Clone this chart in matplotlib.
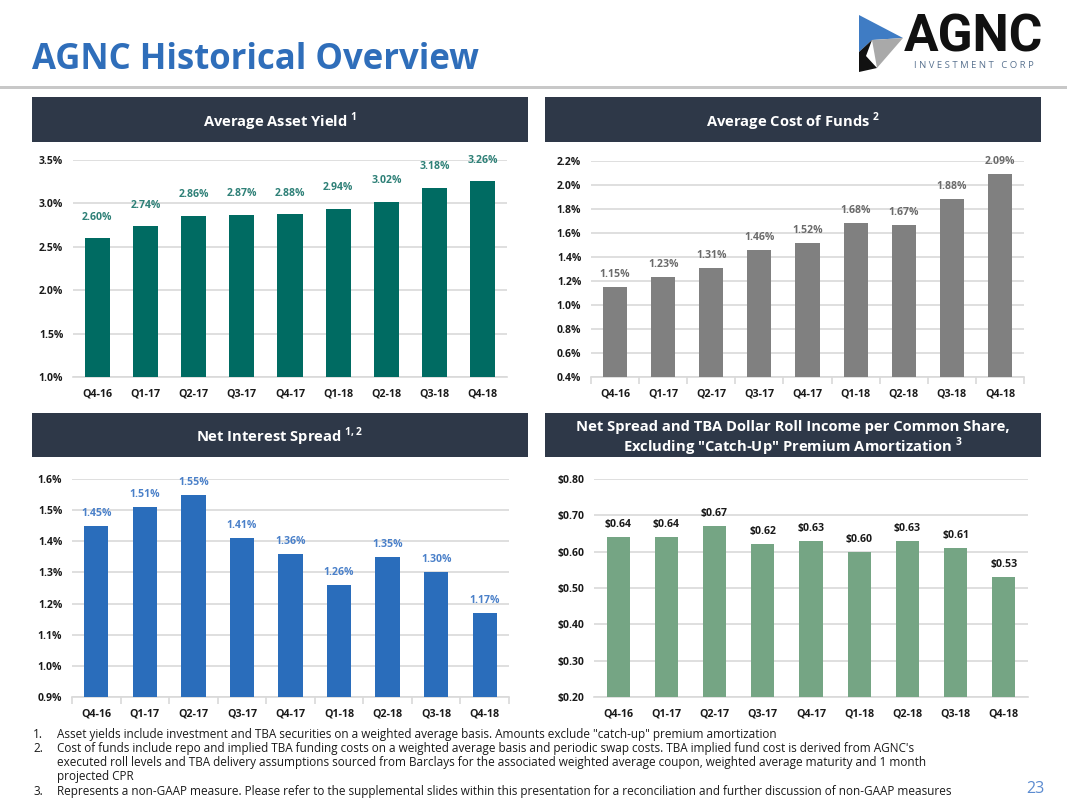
import numpy as np
import matplotlib
matplotlib.use("Agg")
import matplotlib.pyplot as plt
from matplotlib.patches import Rectangle, Polygon
from matplotlib.ticker import FuncFormatter, FixedLocator

quarters = ["Q4-16", "Q1-17", "Q2-17", "Q3-17", "Q4-17", "Q1-18", "Q2-18", "Q3-18", "Q4-18"]
asset_yield = [2.60, 2.74, 2.86, 2.87, 2.88, 2.94, 3.02, 3.18, 3.26]
cost_of_funds = [1.15, 1.23, 1.31, 1.46, 1.52, 1.68, 1.67, 1.88, 2.09]
net_spread = [1.45, 1.51, 1.55, 1.41, 1.36, 1.26, 1.35, 1.30, 1.17]
roll_income = [0.64, 0.64, 0.67, 0.62, 0.63, 0.60, 0.63, 0.61, 0.53]

footnotes = [
    ("1.", "Asset yields include investment and TBA securities on a weighted average basis. Amounts exclude \"catch-up\" premium amortization"),
    ("2.", "Cost of funds include repo and implied TBA funding costs on a weighted average basis and periodic swap costs. TBA implied fund cost is derived from AGNC's\n"
           "executed roll levels and TBA delivery assumptions sourced from Barclays for the associated weighted average coupon, weighted average maturity and 1 month\n"
           "projected CPR"),
    ("3.", "Represents a non-GAAP measure. Please refer to the supplemental slides within this presentation for a reconciliation and further discussion of non-GAAP measures"),
]

plt.rcParams["font.family"] = ["Open Sans", "DejaVu Sans"]
plt.rcParams["mathtext.fontset"] = "custom"
plt.rcParams["mathtext.rm"] = "Open Sans"
plt.rcParams["mathtext.bf"] = "Open Sans:bold"

W, H = 1067, 805
fig = plt.figure(figsize=(W / 100, H / 100), dpi=100)
fig.patch.set_facecolor("white")


def fx(x):
    return x / W


def fy(y):
    return 1 - y / H


def rect(l, t, r, b):
    return [fx(l), fy(b), fx(r) - fx(l), fy(t) - fy(b)]


HEADER = "#2E3848"
TXT = "#1A1A1A"

# title + rule
fig.text(fx(32), fy(60), "AGNC Historical Overview", color="#2F6EBA", fontsize=25,
         fontweight="bold", va="center", ha="left")
fig.add_artist(Rectangle((0, fy(89)), 1, 3 / H, transform=fig.transFigure,
                         color="#C8C8C8", lw=0))

# logo
logo = [
    ([(859, 15), (903, 38), (872, 40), (859, 52)], "#3F7CC4"),
    ([(872, 40), (903, 38), (877, 68)], "#A9A9A9"),
    ([(859, 52), (872, 40), (866, 56), (877, 68), (859, 72)], "#111111"),
]
for pts, c in logo:
    fig.add_artist(Polygon([(fx(x), fy(y)) for x, y in pts], closed=True,
                           transform=fig.transFigure, color=c, lw=0))
fig.text(fx(973), fy(37), "AGNC", fontsize=37, fontweight="bold", color="#111111",
         va="center", ha="center", family=["Roboto", "DejaVu Sans"])
fig.text(fx(974), fy(66), "I N V E S T M E N T   C O R P", fontsize=6.8, color="#5A7390",
         va="center", ha="center")

panels = [
    dict(vals=asset_yield, color="#006B62", lab="#2E8077", head="Average Asset Yield $^{\\mathbf{1}}$",
         hdr=(32, 97, 528, 142), ax=(73, 160, 507, 377), lim=(1.0, 3.5), step=0.5,
         fmt="{:.1f}%", lfmt="{:.2f}%", width=0.52, ticks=False, off=11),
    dict(vals=cost_of_funds, color="#808080", lab="#6B6B6B", head="Average Cost of Funds $^{\\mathbf{2}}$",
         hdr=(545, 97, 1041, 142), ax=(591, 161, 1024, 377), lim=(0.4, 2.2), step=0.2,
         fmt="{:.1f}%", lfmt="{:.2f}%", width=0.5, ticks=True, off=5),
    dict(vals=net_spread, color="#2A6DBB", lab="#4A80C9", head="Net Interest Spread $^{\\mathbf{1,2}}$",
         hdr=(32, 413, 528, 457), ax=(72, 479, 509, 697), lim=(0.9, 1.6), step=0.1,
         fmt="{:.1f}%", lfmt="{:.2f}%", width=0.5, ticks=True, off=5),
    dict(vals=roll_income, color="#75A584", lab=TXT,
         head="Net Spread and TBA Dollar Roll Income per Common Share,\nExcluding \"Catch-Up\" Premium Amortization $^{\\mathbf{3}}$",
         hdr=(545, 413, 1041, 457), ax=(594, 479, 1028, 697), lim=(0.2, 0.8), step=0.1,
         fmt="${:.2f}", lfmt="${:.2f}", width=0.48, ticks=False, off=5),
]

for p in panels:
    l, t, r, b = p["hdr"]
    fig.add_artist(Rectangle((fx(l), fy(b)), fx(r) - fx(l), fy(t) - fy(b),
                             transform=fig.transFigure, color=HEADER, lw=0))
    # superscript pushes the bbox up a little, nudge it back down
    nudge = 4 if "\n" in p["head"] else 2
    fig.text((fx(l) + fx(r)) / 2, fy((t + b) / 2 + nudge), p["head"], color="white",
             fontsize=10.6, fontweight="bold", ha="center", va="center", linespacing=1.1)

    ax = fig.add_axes(rect(*p["ax"]))
    x = np.arange(len(quarters))
    lo, hi = p["lim"]
    ax.bar(x, p["vals"], width=p["width"], color=p["color"], zorder=3)
    ax.set_ylim(lo, hi)
    ax.set_xlim(-0.5, len(quarters) - 0.5)
    ax.set_yticks(np.arange(lo, hi + p["step"] / 2, p["step"]))
    ax.yaxis.set_major_formatter(FuncFormatter(lambda v, pos, f=p["fmt"]: f.format(v)))
    ax.grid(axis="y", color="#D9D9D9", lw=1.2, zorder=0)
    for s in ["top", "right", "left"]:
        ax.spines[s].set_visible(False)
    ax.spines["bottom"].set_color("#D9D9D9")
    ax.spines["bottom"].set_linewidth(1.2)
    ax.set_xticks(x)
    ax.set_xticklabels(quarters)
    ax.tick_params(axis="x", length=0, pad=8, labelsize=7.7)
    ax.tick_params(axis="y", length=0, pad=7, labelsize=7.5)
    for lbl in ax.get_xticklabels() + ax.get_yticklabels():
        lbl.set_fontweight("bold")
        lbl.set_color(TXT)
    if p["ticks"]:
        ax.xaxis.set_minor_locator(FixedLocator(np.arange(-0.5, len(quarters), 1.0)))
        ax.tick_params(axis="x", which="minor", length=5, color="#D9D9D9", width=1.2)
    # value labels
    for xi, v in zip(x, p["vals"]):
        ax.annotate(p["lfmt"].format(v), (xi, v), xytext=(0, p["off"]), textcoords="offset points",
                    ha="center", va="bottom", fontsize=7.6, fontweight="bold",
                    color=p["lab"], annotation_clip=False)

# footnotes
fn_y = 734
for num, txt in footnotes:
    fig.text(fx(33), fy(fn_y), num, fontsize=8.5, color=TXT, va="center", ha="left")
    lines = txt.split("\n")
    for i, ln in enumerate(lines):
        fig.text(fx(57), fy(fn_y + 14 * i), ln, fontsize=8.5, color=TXT, va="center", ha="left")
    fn_y += 14 * len(lines) + (1 if len(lines) > 1 else 0)

fig.text(fx(1035), fy(789), "23", fontsize=11.5, color="#5B8BD0", ha="center", va="center")

fig.savefig("out.png", dpi=100, facecolor="white")
